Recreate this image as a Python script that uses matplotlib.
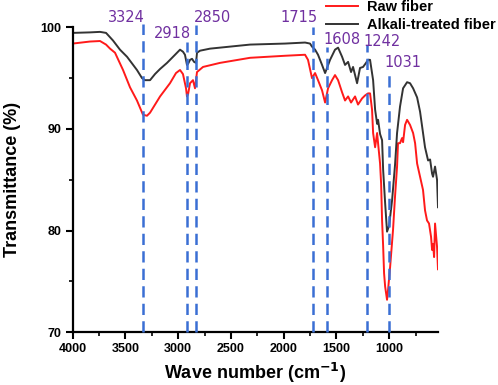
import numpy as np
import matplotlib
matplotlib.use("Agg")
import matplotlib.pyplot as plt
from matplotlib.ticker import MultipleLocator

plt.rcParams['font.family'] = ['Liberation Sans', 'DejaVu Sans']
plt.rcParams['font.weight'] = 'bold'

# alkali-treated fiber (black)
wn_alkali = [4000, 3836, 3741, 3684, 3618, 3552, 3485, 3391, 3343, 3315, 3267, 3220,
             3172, 3106, 3030, 2983, 2955, 2936, 2917, 2907, 2888, 2869, 2850, 2831,
             2822, 2793, 2699, 2509, 2319, 1988, 1798, 1751, 1732, 1703, 1675, 1637,
             1608, 1561, 1514, 1485, 1447, 1419, 1390, 1362, 1343, 1305, 1277, 1248,
             1220, 1201, 1182, 1153, 1134, 1115, 1106, 1087, 1068, 1058, 1039, 1021,
             1001, 973, 945, 926, 898, 869, 831, 803, 774, 736, 708, 661, 632, 613,
             594, 585, 566, 547, 538]
t_alkali = [99.45, 99.5, 99.55, 99.45, 98.7, 97.8, 97.1, 95.8, 95.0, 94.8, 94.8, 95.4,
            95.9, 96.5, 97.3, 97.8, 97.6, 97.3, 96.3, 96.4, 96.8, 96.9, 96.6, 96.5,
            97.5, 97.7, 97.9, 98.1, 98.3, 98.4, 98.5, 98.4, 98.1, 97.8, 97.3, 96.3,
            95.5, 96.8, 97.8, 98.0, 97.1, 96.3, 96.6, 95.6, 96.1, 94.5, 96.0, 96.1,
            96.5, 96.8, 96.8, 94.8, 91.9, 90.5, 90.9, 89.5, 88.9, 86.0, 82.7, 79.9,
            80.5, 83.0, 86.5, 89.6, 92.2, 94.0, 94.6, 94.5, 94.0, 93.1, 91.7, 88.2, 86.9, 87.0,
            85.6, 85.3, 86.3, 85.0, 82.3]

# raw fiber (red)
wn_raw = [4000, 3836, 3741, 3684, 3646, 3599, 3523, 3457, 3391, 3334, 3296, 3267,
          3172, 3078, 3021, 2983, 2955, 2926, 2917, 2907, 2888, 2860, 2841, 2822,
          2765, 2604, 2319, 1988, 1798, 1770, 1732, 1703, 1675, 1637, 1608, 1580,
          1542, 1514, 1485, 1447, 1419, 1390, 1362, 1324, 1296, 1258, 1229, 1201,
          1182, 1163, 1153, 1134, 1115, 1106, 1087, 1077, 1068, 1058, 1049, 1039,
          1021, 1011, 992, 964, 945, 926, 917, 898, 879, 869, 850, 831, 803, 774,
          755, 736, 708, 680, 661, 642, 623, 604, 594, 585, 575, 566, 547, 538]
t_raw = [98.4, 98.6, 98.65, 98.3, 97.9, 97.5, 95.8, 94.1, 92.8, 91.4, 91.3, 91.6,
         93.2, 94.5, 95.5, 95.8, 95.4, 94.0, 93.2, 93.4, 94.5, 94.8, 94.0, 95.6,
         96.1, 96.5, 97.0, 97.2, 97.3, 96.8, 95.0, 95.5, 94.8, 93.8, 92.6, 94.0,
         94.8, 95.3, 94.8, 93.6, 92.8, 93.2, 92.6, 93.2, 92.4, 93.0, 93.3, 93.5,
         93.5, 91.9, 89.6, 88.2, 89.6, 88.6, 86.6, 84.6, 81.0, 78.5, 75.8, 74.5,
         73.2, 74.2, 76.4, 80.1, 83.4, 86.3, 88.6, 88.6, 89.1, 88.7, 90.4, 90.9, 90.4, 89.6,
         88.6, 86.6, 85.3, 84.0, 82.0, 81.0, 80.7, 79.4, 78.1, 78.7, 77.4, 80.7, 78.4, 76.2]

# marked peaks: label text, line position, line top, label position
peak_labels = ['3324', '2918', '2850', '1715', '1608', '1242', '1031']
peak_x = [3331, 2919, 2834, 1719, 1589, 1213, 999]
peak_top = [100.3, 98.6, 100.2, 100.0, 98.1, 98.3, 95.8]
label_x = [3488, 3058, 2675, 1855, 1450, 1071, 869]
label_y = [101.0, 99.4, 101.0, 101.0, 98.8, 98.6, 96.5]

fig = plt.figure(figsize=(4.98, 3.85), dpi=100)
ax = fig.add_axes([72.7/498, 1 - 332.3/385, (438 - 72.7)/498, (332.3 - 27.3)/385])

ax.plot(wn_raw, t_raw, color='#ff1a1a', lw=1.4, label='Raw fiber')
ax.plot(wn_alkali, t_alkali, color='#333333', lw=1.4, label='Alkali-treated fiber')

ax.vlines(peak_x, 70, peak_top, colors='#3a6fd4', linestyles=(0, (4.5, 2.5)), lw=1.8,
          clip_on=False, zorder=3)
for s, x, y in zip(peak_labels, label_x, label_y):
    ax.text(x, y, s, color='#7030a0', fontsize=10.5, fontweight='normal',
            family='DejaVu Sans', ha='center', va='center', clip_on=False)

ax.set_xlim(4000, 538)
ax.set_ylim(70, 100)
ax.set_xticks([4000, 3500, 3000, 2500, 2000, 1500, 1000])
ax.set_yticks([70, 80, 90, 100])
ax.xaxis.set_minor_locator(MultipleLocator(250))
ax.yaxis.set_minor_locator(MultipleLocator(5))
ax.tick_params(which='major', direction='out', length=5, width=1.5, labelsize=9, pad=3)
ax.tick_params(which='minor', direction='out', length=3, width=1.2)
for lab in ax.get_xticklabels() + ax.get_yticklabels():
    lab.set_fontweight('bold')

for side in ['top', 'right']:
    ax.spines[side].set_visible(False)
for side in ['left', 'bottom']:
    ax.spines[side].set_linewidth(1.6)

ax.set_xlabel('Wave number (cm$^{\\mathbf{-1}}$)', fontsize=13, fontweight='bold')
ax.set_ylabel('Transmittance (%)', fontsize=13, fontweight='bold')
ax.xaxis.set_label_coords(0.5, -0.093)
ax.yaxis.set_label_coords(-0.1415, 0.5)

ax.legend(loc='upper left', bbox_to_anchor=(326/498, 1.0), bbox_transform=fig.transFigure,
          frameon=False, handlelength=2.2, handletextpad=0.6,
          labelspacing=0.25, borderpad=0, borderaxespad=0,
          prop={'weight': 'bold', 'size': 10.5})

fig.savefig('out.png', dpi=100)
